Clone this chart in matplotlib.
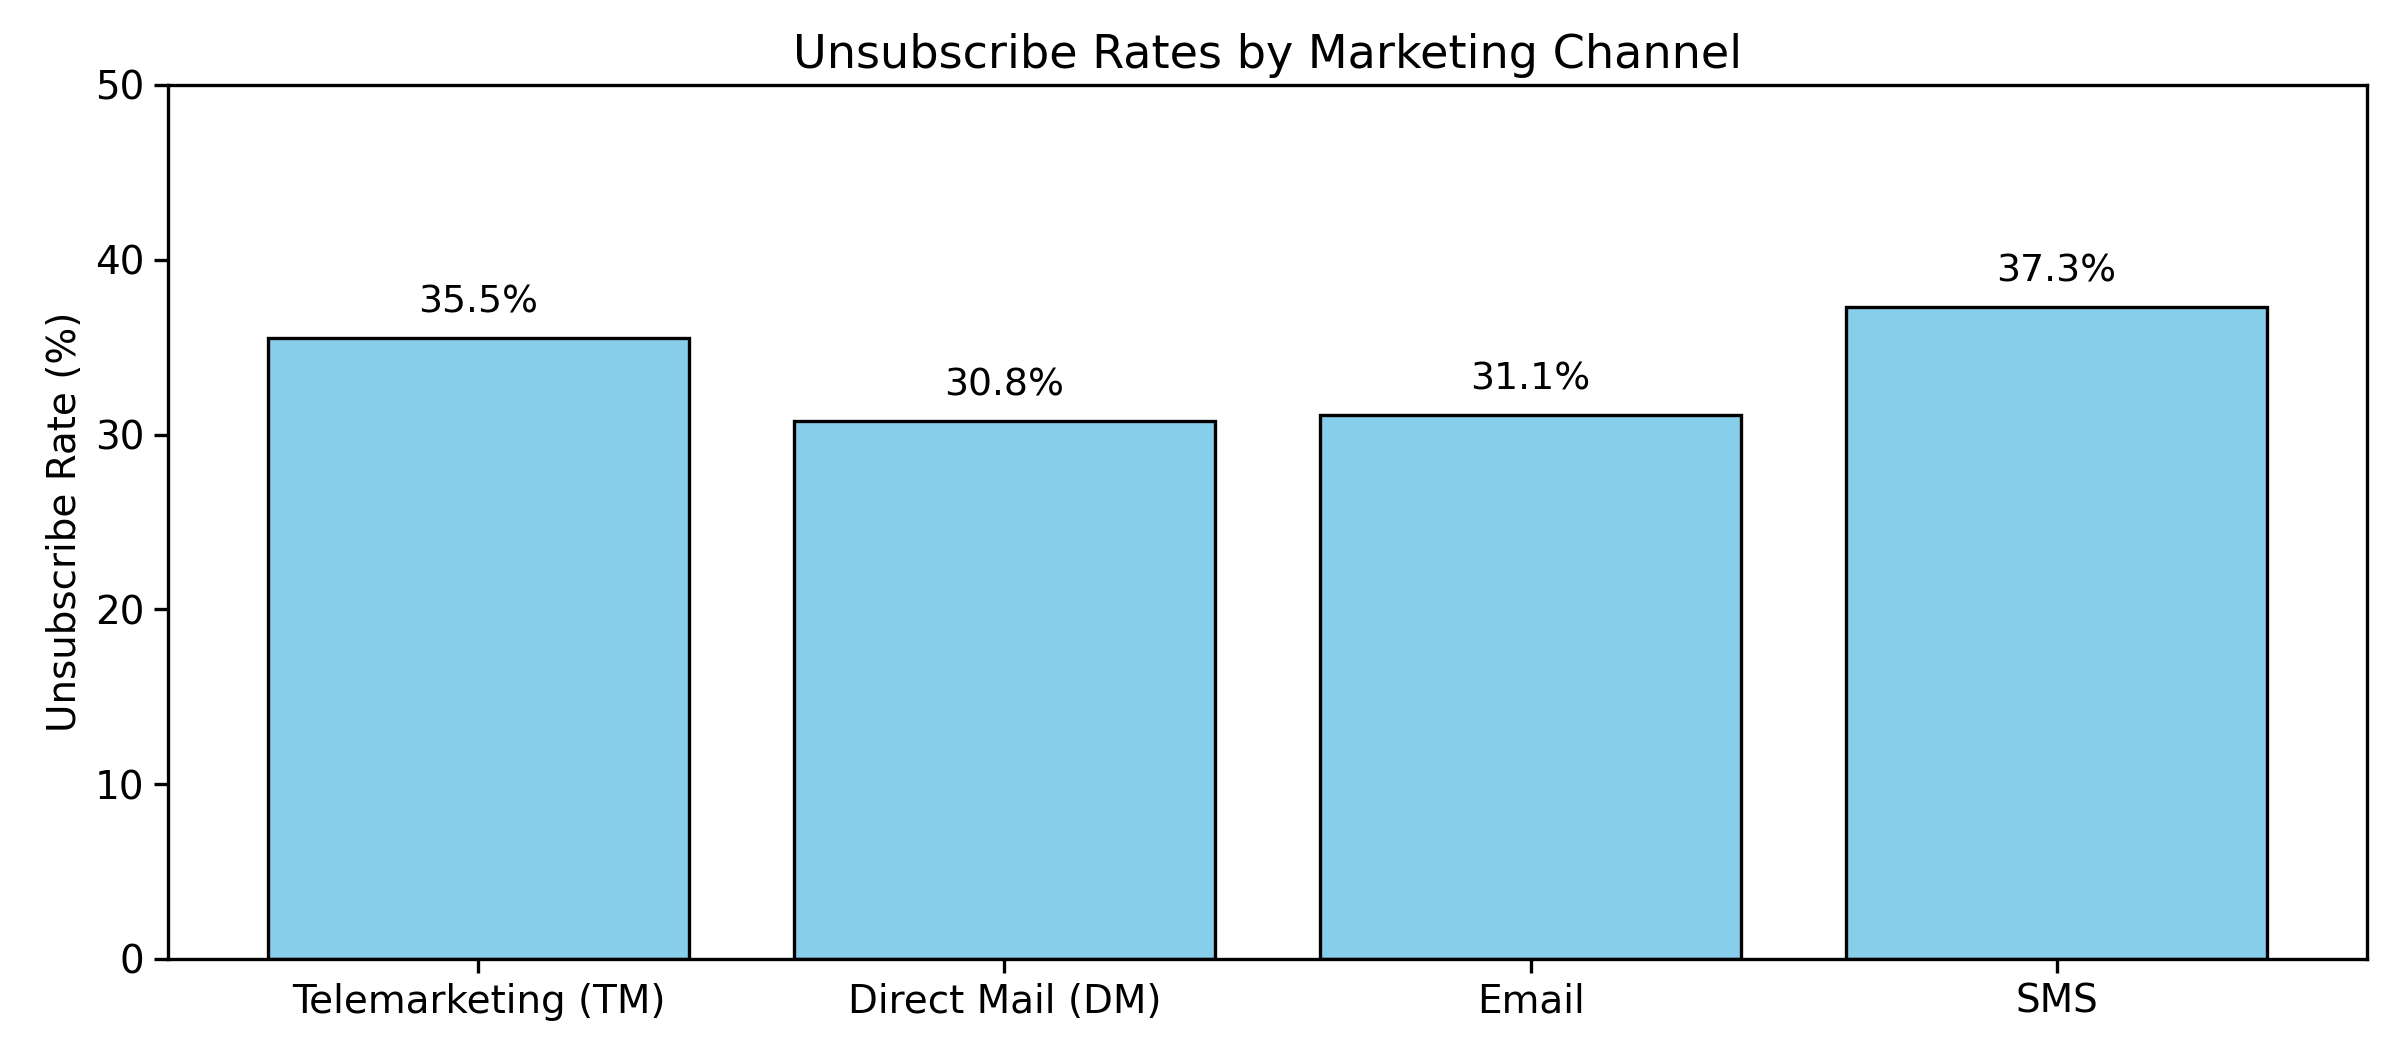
import matplotlib
matplotlib.use("Agg")
import matplotlib.pyplot as plt

# Unsubscribe rate per channel
channels = ["Telemarketing (TM)", "Direct Mail (DM)", "Email", "SMS"]
rates = [35.5, 30.8, 31.1, 37.3]

fig, ax = plt.subplots(figsize=(11.95, 5.2), dpi=200)
fig.subplots_adjust(left=0.0703, right=0.9904, top=0.9183, bottom=0.0779)

bars = ax.bar(channels, rates, color="skyblue", edgecolor="black", linewidth=1.2)
for b, r in zip(bars, rates):
    ax.text(b.get_x() + b.get_width() / 2, r + 1, f"{r}%",
            ha="center", va="bottom", fontsize=13.6)

ax.set_ylim(0, 50)
ax.set_ylabel("Unsubscribe Rate (%)", fontsize=14)
ax.set_title("Unsubscribe Rates by Marketing Channel", fontsize=16.6)
ax.tick_params(labelsize=14, width=1.2, length=5)
for s in ax.spines.values():
    s.set_linewidth(1.2)

fig.savefig("out.png", dpi=200)
